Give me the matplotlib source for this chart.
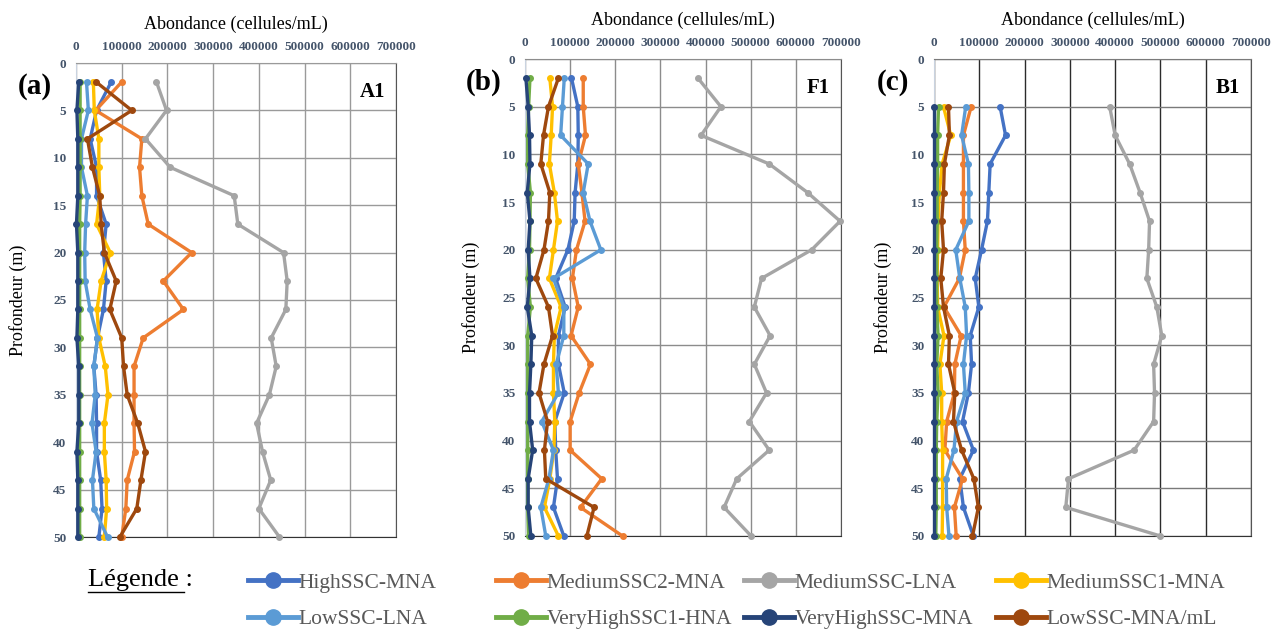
import matplotlib
matplotlib.use("Agg")
import matplotlib.pyplot as plt
from matplotlib.lines import Line2D

# profondeurs d'echantillonnage (m)
depth_ab = [2, 5, 8, 11, 14, 17, 20, 23, 26, 29, 32, 35, 38, 41, 44, 47, 50]
depth_c = [5, 8, 11, 14, 17, 20, 23, 26, 29, 32, 35, 38, 41, 44, 47, 50]

groups = ["HighSSC-MNA", "MediumSSC2-MNA", "MediumSSC-LNA", "MediumSSC1-MNA",
          "LowSSC-LNA", "VeryHighSSC1-HNA", "VeryHighSSC-MNA", "LowSSC-MNA/mL"]
colors = ["#4472C4", "#ED7D31", "#A5A5A5", "#FFC000",
          "#5B9BD5", "#70AD47", "#264478", "#9E480E"]

# station A1
a1_high = [77000, 45000, 31000, 45000, 45000, 66000, 60000, 66000, 60000, 47000, 39000, 44000, 45000, 45000, 54000, 57000, 50000]
a1_med2 = [100000, 43000, 144000, 139000, 144000, 158000, 253000, 191000, 235000, 147000, 127000, 127000, 127000, 128000, 112000, 109000, 100000]
a1_medlna = [176000, 198000, 152000, 206000, 346000, 354000, 454000, 462000, 459000, 427000, 438000, 423000, 395000, 408000, 426000, 400000, 445000]
a1_med1 = [38000, 40000, 50000, 50000, 52000, 45000, 75000, 55000, 46000, 50000, 64000, 70000, 62000, 62000, 66000, 67000, 62000]
a1_low = [23000, 27000, 12000, 12000, 25000, 21000, 19000, 20000, 31000, 47000, 39000, 42000, 35000, 44000, 36000, 39000, 69000]
a1_vh1 = [9000, 9000, 9000, 9000, 9000, 8000, 8000, 8000, 8000, 8000, 8000, 8000, 8000, 8000, 8000, 8000, 8000]
a1_vh = [6000, 2000, 4000, 4000, 4000, 1000, 4000, 4000, 4000, 2000, 6000, 6000, 6000, 2000, 4000, 4000, 4000]
a1_lowmna = [44000, 122000, 25000, 36000, 52000, 55000, 62000, 88000, 74000, 100000, 104000, 112000, 135000, 152000, 142000, 133000, 96000]

# station F1
f1_high = [103000, 117000, 118000, 117000, 111000, 109000, 95000, 68000, 89000, 74000, 74000, 87000, 66000, 68000, 72000, 63000, 86000]
f1_med2 = [129000, 129000, 134000, 118000, 126000, 133000, 114000, 105000, 118000, 102000, 145000, 120000, 100000, 100000, 170000, 123000, 216000]
f1_medlna = [383000, 434000, 390000, 541000, 626000, 698000, 635000, 524000, 508000, 543000, 508000, 535000, 497000, 541000, 469000, 441000, 501000]
f1_med1 = [55000, 61000, 58000, 54000, 65000, 72000, 63000, 54000, 80000, 65000, 63000, 63000, 66000, 64000, 55000, 43000, 74000]
f1_low = [87000, 83000, 79000, 140000, 129000, 144000, 168000, 63000, 86000, 86000, 69000, 74000, 37000, 63000, 53000, 35000, 46000]
f1_vh1 = [11000, 8000, 6000, 6000, 12000, 11000, 10000, 6000, 12000, 6000, 6000, 6000, 6000, 6000, 6000, 6000, 8000]
f1_vh = [2000, 7000, 10000, 11000, 5000, 11000, 7000, 11000, 5000, 15000, 13000, 10000, 10000, 17000, 7000, 7000, 13000]
f1_lowmna = [74000, 52000, 41000, 35000, 55000, 52000, 42000, 24000, 52000, 61000, 42000, 31000, 50000, 43000, 46000, 153000, 137000]

# station B1
b1_high = [146000, 158000, 124000, 121000, 118000, 105000, 91000, 99000, 80000, 83000, 76000, 63000, 87000, 57000, 65000, 87000]
b1_med2 = [82000, 65000, 65000, 65000, 65000, 69000, 56000, 22000, 60000, 46000, 45000, 28000, 24000, 63000, 45000, 49000]
b1_medlna = [388000, 400000, 432000, 455000, 476000, 474000, 470000, 492000, 503000, 485000, 487000, 485000, 442000, 297000, 291000, 500000]
b1_med1 = [21000, 37000, 18000, 12000, 9000, 8000, 7000, 8000, 22000, 13000, 17000, 17000, 19000, 19000, 19000, 18000]
b1_low = [70000, 61000, 76000, 77000, 77000, 48000, 57000, 69000, 72000, 65000, 69000, 50000, 44000, 27000, 28000, 33000]
b1_vh1 = [10000, 8000, 8000, 7000, 7000, 6000, 6000, 6000, 9000, 6000, 9000, 6000, 5000, 5000, 5000, 4000]
b1_vh = [0, 0, 0, 0, 0, 0, 0, 0, 0, 0, 0, 0, 0, 0, 0, 0]
b1_lowmna = [32000, 34000, 23000, 21000, 17000, 21000, 15000, 21000, 34000, 32000, 46000, 43000, 61000, 88000, 98000, 85000]

panels = [
    ("(a)", "A1", depth_ab, [a1_high, a1_med2, a1_medlna, a1_med1, a1_low, a1_vh1, a1_vh, a1_lowmna]),
    ("(b)", "F1", depth_ab, [f1_high, f1_med2, f1_medlna, f1_med1, f1_low, f1_vh1, f1_vh, f1_lowmna]),
    ("(c)", "B1", depth_c, [b1_high, b1_med2, b1_medlna, b1_med1, b1_low, b1_vh1, b1_vh, b1_lowmna]),
]

W, H = 1280, 629
boxes = [(76, 63, 396, 537), (525, 59, 841, 536), (934, 59, 1251, 536)]
grid_cols = ["#9a9a9a", "#8c8c8c", "#7a7a7a"]
vgrid_cols = ["#9a9a9a", "#8c8c8c", "#2b2b2b"]
ylab_pad = [19, 16, 14]
tick_col = "#44546A"
serif = ["Liberation Serif", "DejaVu Serif"]

fig = plt.figure(figsize=(W / 100, H / 100), dpi=100)
fig.patch.set_facecolor("white")

for i, (tag, station, depth, series) in enumerate(panels):
    x0, y0, x1, y1 = boxes[i]
    ax = fig.add_axes([x0 / W, 1 - y1 / H, (x1 - x0) / W, (y1 - y0) / H])
    for vals, c in zip(series, colors):
        ax.plot(vals, depth, color=c, lw=2.4, marker="o", ms=4, zorder=3,
                clip_on=False)
    ax.set_xlim(0, 700000)
    ax.set_ylim(50, 0)
    ax.set_xticks(range(0, 700001, 100000))
    ax.set_yticks(range(0, 51, 5))
    ax.xaxis.tick_top()
    ax.xaxis.set_label_position("top")
    ax.tick_params(length=0, pad=7, labelsize=9.5, labelcolor=tick_col)
    for lab in ax.get_xticklabels() + ax.get_yticklabels():
        lab.set_fontweight("bold")
        lab.set_family(serif)
    ax.grid(axis="y", color=grid_cols[i], lw=1)
    ax.grid(axis="x", color=vgrid_cols[i], lw=1)
    ax.set_axisbelow(True)
    ax.spines["left"].set_color("#c9d3e0")
    ax.spines["top"].set_color(grid_cols[i])
    ax.spines["bottom"].set_color("#333333")
    ax.spines["right"].set_color("#555555")
    ax.set_xlabel("Abondance (cellules/mL)", family=serif, fontsize=13, labelpad=9)
    ax.set_ylabel("Profondeur (m)", family=serif, fontsize=13, labelpad=ylab_pad[i])
    ax.text(0.965, 0.96, station, transform=ax.transAxes, ha="right", va="top",
            family=serif, fontsize=15, fontweight="bold")
    fig.text((x0 - 41) / W, 1 - (y0 + 23) / H, tag, ha="center", va="center",
             family=serif, fontsize=21, fontweight="bold")

# legende : quatre colonnes de deux entrees
fig.text(88 / W, 1 - 580 / H, "Légende :", family=serif, fontsize=19,
         ha="left", va="center")
fig.add_artist(Line2D([88 / W, 184 / W], [1 - 592 / H, 1 - 592 / H],
                      color="black", lw=1))
col_x = [248, 496, 744, 996]
for j in range(4):
    hs = [Line2D([], [], color=colors[k], lw=3.5, marker="o", ms=11)
          for k in (j, j + 4)]
    leg = fig.legend(hs, [groups[j], groups[j + 4]], loc="center left",
                     bbox_to_anchor=(col_x[j] / W, 1 - 601 / H),
                     frameon=False, handlelength=2.3, handletextpad=0.05,
                     labelspacing=0.75, borderpad=0, borderaxespad=0,
                     prop={"family": serif, "size": 15.5})
    for t in leg.get_texts():
        t.set_color("#595959")

fig.savefig("out.png", dpi=100)
